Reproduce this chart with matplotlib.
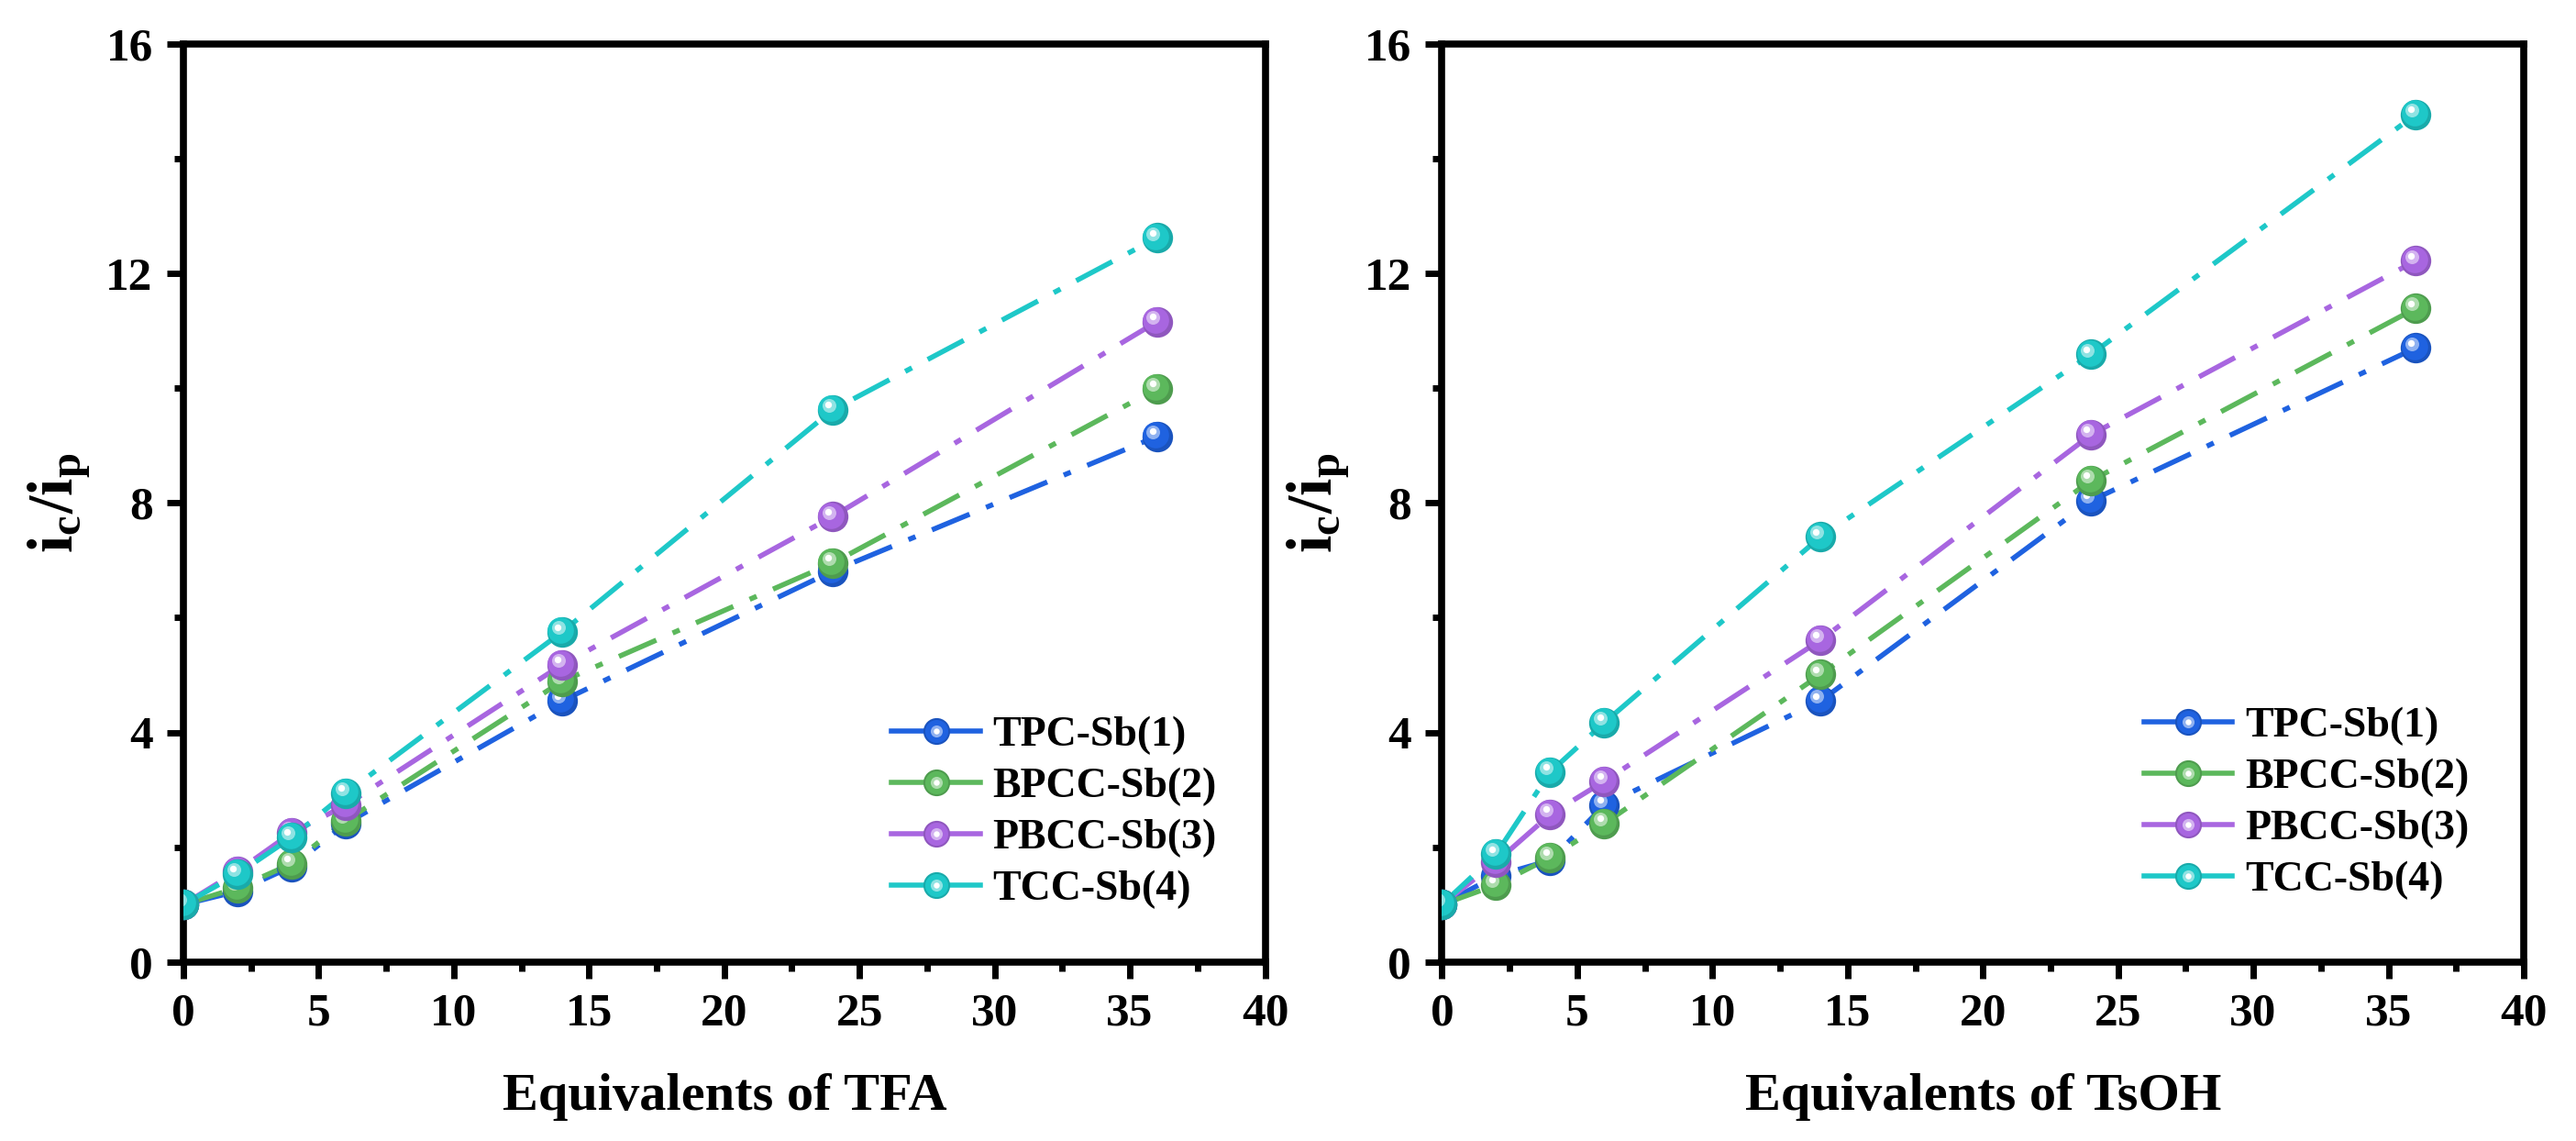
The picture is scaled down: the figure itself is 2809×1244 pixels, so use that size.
import matplotlib
matplotlib.use('Agg')
import matplotlib.pyplot as plt
import matplotlib.colors as mcolors
from matplotlib.transforms import offset_copy
from matplotlib.legend_handler import HandlerTuple
from matplotlib.ticker import MultipleLocator

plt.rcParams.update({
    'font.family': 'Liberation Serif',
    'font.weight': 'bold',
    'mathtext.fontset': 'custom',
    'mathtext.rm': 'Liberation Serif:bold',
    'mathtext.bf': 'Liberation Serif:bold',
    'mathtext.it': 'Liberation Serif:bold',
})

# equivalents of acid added
equiv = [0, 2, 4, 6, 14, 24, 36]

names = ['TPC-Sb(1)', 'BPCC-Sb(2)', 'PBCC-Sb(3)', 'TCC-Sb(4)']
colors = ['#1f62e0', '#5cb85c', '#a866e0', '#1ec8c8']

# i_c/i_p with TFA
tfa_tpc = [1.0, 1.23, 1.66, 2.41, 4.55, 6.81, 9.16]
tfa_bpcc = [1.0, 1.29, 1.71, 2.46, 4.89, 6.95, 9.99]
tfa_pbcc = [1.0, 1.58, 2.25, 2.73, 5.18, 7.76, 11.16]
tfa_tcc = [1.0, 1.53, 2.17, 2.94, 5.75, 9.62, 12.62]

# i_c/i_p with TsOH
tsoh_tpc = [1.0, 1.50, 1.77, 2.73, 4.55, 8.04, 10.70]
tsoh_bpcc = [1.0, 1.34, 1.82, 2.41, 5.01, 8.39, 11.39]
tsoh_pbcc = [1.0, 1.74, 2.57, 3.15, 5.61, 9.19, 12.22]
tsoh_tcc = [1.0, 1.88, 3.31, 4.17, 7.41, 10.59, 14.77]

panels = [
    ('Equivalents of TFA', [tfa_tpc, tfa_bpcc, tfa_pbcc, tfa_tcc], (0.805, 0.163)),
    ('Equivalents of TsOH', [tsoh_tpc, tsoh_bpcc, tsoh_pbcc, tsoh_tcc], (0.799, 0.173)),
]


def shade(c, f):
    # f<0 darker, f>0 towards white
    r, g, b = mcolors.to_rgb(c)
    if f < 0:
        return (r * (1 + f), g * (1 + f), b * (1 + f))
    return (r + (1 - r) * f, g + (1 - g) * f, b + (1 - b) * f)


# layers of the fake 3D ball: (size factor, colour shift, dx, dy)
BALL = [(1.0, -0.15, 0, 0), (0.86, 0.0, -1.0, 1.2), (0.45, 0.5, -3.0, 3.5), (0.22, 1.0, -3.5, 4.0)]


def sphere(ax, fig, x, y, c, ms):
    for f, s, dx, dy in BALL:
        tr = offset_copy(ax.transData, fig=fig, x=dx, y=dy, units='points')
        ax.plot(x, y, 'o', ms=ms * f, mfc=shade(c, s), mec='none', ls='none', transform=tr, zorder=3)


fig, axes = plt.subplots(1, 2, figsize=(28.09, 12.44), dpi=100)
plt.subplots_adjust(left=0.0712, right=0.9797, bottom=0.157, top=0.9614, wspace=0.1636)

for ax, (xlabel, series, leg_pos) in zip(axes, panels):
    handles = []
    for vals, c in zip(series, colors):
        ax.plot(equiv, vals, color=c, lw=4, dashes=(8, 3.5, 1.5, 3.5), zorder=2)
        sphere(ax, fig, equiv, vals, c, 24)
        # legend: solid short line + ball
        h = [plt.Line2D([], [], color=c, lw=4)]
        for f, s, dx, dy in BALL:
            h.append(plt.Line2D([], [], marker='o', ls='none', ms=21 * f, mfc=shade(c, s), mec='none'))
        handles.append(tuple(h))

    ax.set_xlim(0, 40)
    ax.set_ylim(0, 16)
    ax.xaxis.set_major_locator(MultipleLocator(5))
    ax.xaxis.set_minor_locator(MultipleLocator(2.5))
    ax.yaxis.set_major_locator(MultipleLocator(4))
    ax.yaxis.set_minor_locator(MultipleLocator(2))
    ax.tick_params(which='both', direction='out', top=False, right=False, width=5)
    ax.tick_params(which='major', length=13, labelsize=37, pad=11)
    ax.tick_params(which='minor', length=7)
    for s in ax.spines.values():
        s.set_linewidth(5.5)

    ax.set_xlabel(xlabel, fontsize=42, fontweight='bold', labelpad=30)
    ax.set_ylabel(r'$\mathbf{i_c/i_p}$', fontsize=50, labelpad=10)

    ax.legend(handles, names, handler_map={tuple: HandlerTuple(ndivide=1, pad=0)},
              loc='center', bbox_to_anchor=leg_pos, frameon=False, fontsize=33,
              handlelength=2.1, handletextpad=0.3, labelspacing=0.3)

fig.savefig('out.png', dpi=100)
